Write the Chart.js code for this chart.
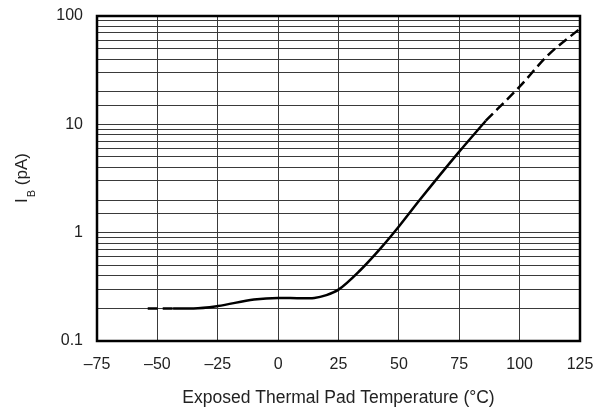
<!DOCTYPE html>
<html>
<head>
<meta charset="utf-8">
<script src="https://cdn.jsdelivr.net/npm/chart.js@4/dist/chart.umd.min.js"></script>
<style>
  body { margin: 0; background: #fff; }
  #wrap { width: 605px; height: 409px; }
</style>
</head>
<body>
<div id="wrap"><canvas id="ibChart"></canvas></div>
<script>
// temperatures (°C) and bias current (pA)
let leftTemps = [-54, -43.5];
let leftVals = [0.2, 0.2];

let midTemps = [-43.5, -35, -25, -10, 0, 10, 15, 20, 25, 34, 42.5, 50, 58.6, 75, 86];
let midVals = [0.2, 0.2, 0.21, 0.242, 0.25, 0.248, 0.25, 0.265, 0.298, 0.45, 0.72, 1.14, 2.0, 5.6, 10.8];

let rightTemps = [86, 100, 112, 125];
let rightVals = [10.8, 22.3, 44, 76.5];

// tick labels shown on the axes
let xTicks = [-75, -50, -25, 0, 25, 50, 75, 100, 125];
let yTicks = [0.1, 1, 10, 100];

let fontFamily = "'Liberation Sans', Arial, sans-serif";

function toPoints(xs, ys) {
  return xs.map(function (x, i) {
    return { x: x, y: ys[i] };
  });
}

function lineSet(xs, ys, dashed) {
  return {
    data: toPoints(xs, ys),
    borderColor: "#000",
    borderWidth: 2.5,
    borderDash: dashed ? [10, 5] : [],
    pointRadius: 0,
    showLine: true,
    fill: false,
    cubicInterpolationMode: "monotone",
  };
}

// frame around the plot plus the y title with its subscript
let framePlugin = {
  id: "frame",
  afterDraw: function (chart) {
    let ctx = chart.ctx;
    let a = chart.chartArea;
    ctx.save();
    ctx.strokeStyle = "#000";
    ctx.lineWidth = 2.5;
    ctx.strokeRect(a.left, a.top, a.right - a.left, a.bottom - a.top);

    ctx.translate(22, (a.top + a.bottom) / 2);
    ctx.rotate(-Math.PI / 2);
    ctx.fillStyle = "#222";
    ctx.textBaseline = "alphabetic";
    let big = "17px " + fontFamily;
    let small = "11px " + fontFamily;
    ctx.font = big;
    let wI = ctx.measureText("I").width;
    let wRest = ctx.measureText(" (pA)").width;
    ctx.font = small;
    let wB = ctx.measureText("B").width;
    let x0 = -(wI + wB + wRest) / 2;
    ctx.font = big;
    ctx.fillText("I", x0, 5);
    ctx.font = small;
    ctx.fillText("B", x0 + wI + 1, 13);
    ctx.font = big;
    ctx.fillText(" (pA)", x0 + wI + wB + 1, 5);
    ctx.restore();
  },
};

let chart = new Chart(document.getElementById("ibChart"), {
  type: "scatter",
  data: {
    datasets: [
      lineSet(leftTemps, leftVals, true),
      lineSet(midTemps, midVals, false),
      lineSet(rightTemps, rightVals, true),
    ],
  },
  options: {
    responsive: true,
    maintainAspectRatio: false,
    animation: false,
    layout: { padding: { top: 16, right: 25, left: 0, bottom: 0 } },
    plugins: {
      legend: { display: false },
      tooltip: { enabled: false },
    },
    scales: {
      x: {
        type: "linear",
        min: -75,
        max: 125,
        afterBuildTicks: function (scale) {
          scale.ticks = xTicks.map(function (v) { return { value: v }; });
        },
        grid: { color: "#3a3a3a", lineWidth: 1, drawTicks: false },
        border: { display: false },
        ticks: {
          padding: 14,
          color: "#222",
          font: { family: fontFamily, size: 16 },
          callback: function (v) {
            return v < 0 ? "\u2013" + Math.abs(v) : String(v);
          },
        },
        title: {
          display: true,
          text: "Exposed Thermal Pad Temperature (\u00B0C)",
          color: "#222",
          font: { family: fontFamily, size: 17.5 },
          padding: { top: 7, bottom: 0 },
        },
        afterFit: function (scale) {
          scale.height = 68;
          scale.paddingLeft = 0;
          scale.paddingRight = 0;
        },
      },
      y: {
        type: "logarithmic",
        min: 0.1,
        max: 100,
        grid: { color: "#3a3a3a", lineWidth: 1, drawTicks: false },
        border: { display: false },
        ticks: {
          autoSkip: false,
          padding: 14,
          color: "#222",
          font: { family: fontFamily, size: 16 },
          callback: function (v) {
            for (let t of yTicks) {
              if (Math.abs(v - t) < t * 1e-6) return String(t);
            }
            return "";
          },
        },
        afterFit: function (scale) {
          scale.width = 97;
          scale.paddingTop = 0;
          scale.paddingBottom = 0;
        },
      },
    },
  },
  plugins: [framePlugin],
});
</script>
</body>
</html>
